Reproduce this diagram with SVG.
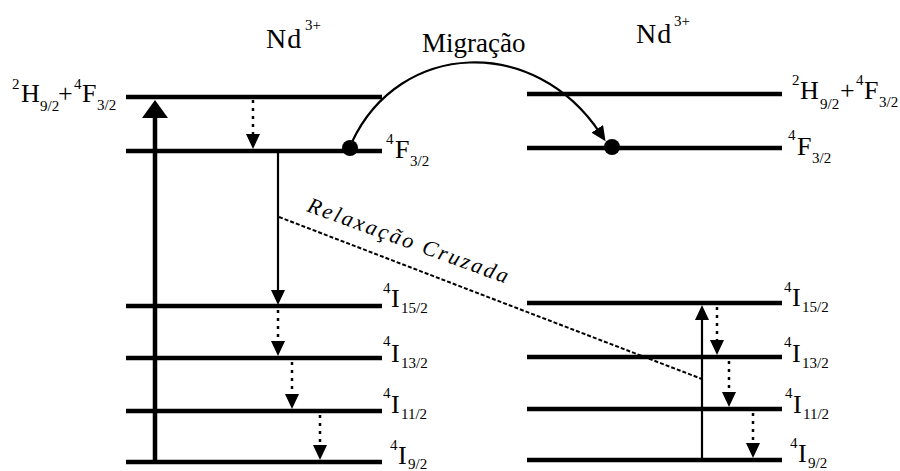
<svg xmlns="http://www.w3.org/2000/svg" width="900" height="471" viewBox="0 0 900 471">
<style>
  .lvl { stroke:#000; stroke-width:4.5; }
  .lbl { font-family:'Liberation Serif','Times New Roman',serif; font-size:26px; fill:#000; }
  .nd { font-size:28px; letter-spacing:1px; }
  .sub { font-size:15px; letter-spacing:0; }
  .sup { font-size:15px; letter-spacing:0; }
  .solid { stroke:#000; stroke-width:2.2; fill:none; }
  .thick { stroke:#000; stroke-width:4.5; fill:none; }
  .dot { stroke:#000; stroke-width:2.5; fill:none; stroke-dasharray:3 5; }
  .dash { stroke:#000; stroke-width:2; fill:none; stroke-dasharray:4 2; }
</style>
<defs>
  <marker id="bigHead" markerUnits="userSpaceOnUse" viewBox="0 0 18 26" refX="6" refY="13" markerWidth="18" markerHeight="26" orient="auto">
    <path d="M0,0 L18,13 L0,26 Z" fill="#000"/>
  </marker>
  <marker id="head" markerUnits="userSpaceOnUse" viewBox="0 0 15 14" refX="5" refY="7" markerWidth="15" markerHeight="14" orient="auto">
    <path d="M0,0 L15,7 L0,14 Z" fill="#000"/>
  </marker>
</defs>
<rect width="900" height="471" fill="#fff"/>

<g id="left-levels">
  <line class="lvl" x1="126" y1="97" x2="382" y2="97"/>
  <line class="lvl" x1="126" y1="151" x2="382" y2="151"/>
  <line class="lvl" x1="126" y1="306" x2="382" y2="306"/>
  <line class="lvl" x1="126" y1="358" x2="382" y2="358"/>
  <line class="lvl" x1="126" y1="411" x2="382" y2="411"/>
  <line class="lvl" x1="126" y1="462" x2="382" y2="462"/>
</g>
<g id="right-levels">
  <line class="lvl" x1="527" y1="94" x2="782" y2="94"/>
  <line class="lvl" x1="527" y1="148" x2="782" y2="148"/>
  <line class="lvl" x1="527" y1="303" x2="782" y2="303"/>
  <line class="lvl" x1="527" y1="357" x2="782" y2="357"/>
  <line class="lvl" x1="527" y1="409" x2="782" y2="409"/>
  <line class="lvl" x1="527" y1="460" x2="782" y2="460"/>
</g>

<g id="connectors">
  <line class="thick" x1="155" y1="462" x2="155" y2="112" marker-end="url(#bigHead)"/>
  <line class="dot" x1="253" y1="100" x2="253" y2="139" marker-end="url(#head)"/>
  <line class="solid" x1="278" y1="151" x2="278" y2="295" marker-end="url(#head)"/>
  <line class="dot" x1="278" y1="310" x2="278" y2="346" marker-end="url(#head)"/>
  <line class="dot" x1="292" y1="362" x2="292" y2="399" marker-end="url(#head)"/>
  <line class="dot" x1="320" y1="415" x2="320" y2="450" marker-end="url(#head)"/>
  <line class="solid" x1="702" y1="460" x2="702" y2="315" marker-end="url(#head)"/>
  <line class="dot" x1="717" y1="307" x2="717" y2="345" marker-end="url(#head)"/>
  <line class="dot" x1="729" y1="361" x2="729" y2="397" marker-end="url(#head)"/>
  <line class="dot" x1="753" y1="413" x2="753" y2="448" marker-end="url(#head)"/>
  <line class="dash" x1="279" y1="217" x2="702" y2="379"/>
  <path class="solid" d="M352,142 C400,40 535,35 600,133" marker-end="url(#head)"/>
</g>

<g id="ions">
  <circle cx="350" cy="148" r="8" fill="#000"/>
  <circle cx="612" cy="147" r="8" fill="#000"/>
</g>

<g id="labels">
  <text class="lbl nd"><tspan x="266" y="48">Nd</tspan><tspan class="sup" x="305" y="30">3+</tspan></text>
  <text class="lbl nd"><tspan x="636" y="43">Nd</tspan><tspan class="sup" x="674" y="26">3+</tspan></text>
  <text class="lbl" x="422" y="52" style="font-size:27px">Migração</text>

  <text class="lbl"><tspan class="sup" x="12" y="89">2</tspan><tspan x="21" y="102">H</tspan><tspan class="sub" x="40" y="111">9/2</tspan><tspan x="58" y="102">+</tspan><tspan class="sup" x="74" y="89">4</tspan><tspan x="82" y="102">F</tspan><tspan class="sub" x="97" y="110">3/2</tspan></text>
  <text class="lbl"><tspan class="sup" x="386" y="144">4</tspan><tspan x="395" y="158">F</tspan><tspan class="sub" x="410" y="166">3/2</tspan></text>
  <text class="lbl"><tspan class="sup" x="383" y="293">4</tspan><tspan x="391" y="307">I</tspan><tspan class="sub" x="401" y="313">15/2</tspan></text>
  <text class="lbl"><tspan class="sup" x="383" y="346">4</tspan><tspan x="391" y="362">I</tspan><tspan class="sub" x="401" y="368">13/2</tspan></text>
  <text class="lbl"><tspan class="sup" x="383" y="398">4</tspan><tspan x="391" y="413">I</tspan><tspan class="sub" x="401" y="419">11/2</tspan></text>
  <text class="lbl"><tspan class="sup" x="390" y="450">4</tspan><tspan x="398" y="464">I</tspan><tspan class="sub" x="408" y="469">9/2</tspan></text>

  <text class="lbl"><tspan class="sup" x="792" y="85">2</tspan><tspan x="800" y="99">H</tspan><tspan class="sub" x="820" y="109">9/2</tspan><tspan x="840" y="99">+</tspan><tspan class="sup" x="856" y="85">4</tspan><tspan x="864" y="99">F</tspan><tspan class="sub" x="879" y="107">3/2</tspan></text>
  <text class="lbl"><tspan class="sup" x="788" y="140">4</tspan><tspan x="797" y="155">F</tspan><tspan class="sub" x="812" y="163">3/2</tspan></text>
  <text class="lbl"><tspan class="sup" x="784" y="292">4</tspan><tspan x="792" y="306">I</tspan><tspan class="sub" x="802" y="312">15/2</tspan></text>
  <text class="lbl"><tspan class="sup" x="784" y="347">4</tspan><tspan x="792" y="362">I</tspan><tspan class="sub" x="802" y="368">13/2</tspan></text>
  <text class="lbl"><tspan class="sup" x="785" y="398">4</tspan><tspan x="793" y="413">I</tspan><tspan class="sub" x="803" y="419">11/2</tspan></text>
  <text class="lbl"><tspan class="sup" x="790" y="448">4</tspan><tspan x="798" y="462">I</tspan><tspan class="sub" x="808" y="468">9/2</tspan></text>

  <text class="lbl" transform="translate(306,211) rotate(20)" style="font-style:italic;font-size:22px" textLength="212" lengthAdjust="spacing">Relaxação Cruzada</text>
</g>
</svg>
